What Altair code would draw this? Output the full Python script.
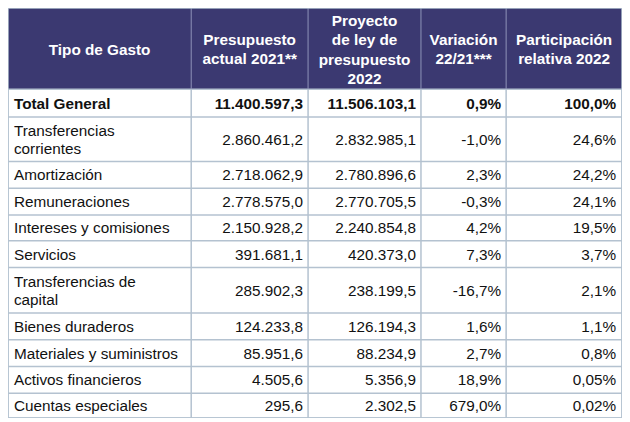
import altair as alt
import pandas as pd

# ---- data ----
headers = ["Tipo de Gasto", "Presupuesto\nactual 2021**", "Proyecto\nde ley de\npresupuesto\n2022",
           "Variación\n22/21***", "Participación\nrelativa 2022"]
tipo = ["Total General", "Transferencias\ncorrientes", "Amortización", "Remuneraciones",
        "Intereses y comisiones", "Servicios", "Transferencias de\ncapital", "Bienes duraderos",
        "Materiales y suministros", "Activos financieros", "Cuentas especiales"]
p2021 = [11400597.3, 2860461.2, 2718062.9, 2778575.0, 2150928.2, 391681.1, 285902.3,
         124233.8, 85951.6, 4505.6, 295.6]
p2022 = [11506103.1, 2832985.1, 2780896.6, 2770705.5, 2240854.8, 420373.0, 238199.5,
         126194.3, 88234.9, 5356.9, 2302.5]
variacion = [0.9, -1.0, 2.3, -0.3, 4.2, 7.3, -16.7, 1.6, 2.7, 18.9, 679.0]
participacion = [100.0, 24.6, 24.2, 24.1, 19.5, 3.7, 2.1, 1.1, 0.8, 0.05, 0.02]
part_decimals = [1, 1, 1, 1, 1, 1, 1, 1, 1, 2, 2]

# ---- layout ----
col_w = [185, 118, 114, 86, 117]
header_h = 82
row_h = [28, 45, 27, 27, 26, 27, 46, 27, 27, 27, 25]
W = sum(col_w)
H = header_h + sum(row_h)
PW, PH = 614, 410

HEADER_BG = "#3b3971"
LINE = "#b4c2d0"
HEADER_LINE = "#8e93b8"
FONT = "Liberation Sans"
FS = 15.3
H_LH = 19.5
B_LH = 18


def es_num(v, d=1):
    s = f"{v:,.{d}f}"
    return s.replace(",", "X").replace(".", ",").replace("X", ".")


col_x = [0]
for w in col_w:
    col_x.append(col_x[-1] + w)
row_y = [0, header_h]
for h in row_h:
    row_y.append(row_y[-1] + h)

xs = alt.Scale(domain=[0, W], range=[0, PW], nice=False, zero=False)
ys = alt.Scale(domain=[0, H], range=[0, PH], nice=False, zero=False)

# header background
hdr = pd.DataFrame({"x": [0], "x2": [W], "y": [0], "y2": [header_h]})
bg = alt.Chart(hdr).mark_rect(fill=HEADER_BG).encode(
    x=alt.X("x:Q", scale=xs, axis=None), x2="x2",
    y=alt.Y("y:Q", scale=ys, axis=None), y2="y2")

# horizontal lines
hl = pd.DataFrame({"y": row_y[1:], "x": 0, "x2": W})
hrules = alt.Chart(hl).mark_rule(color=LINE, strokeWidth=1.5).encode(
    x=alt.X("x:Q", scale=xs, axis=None), x2="x2",
    y=alt.Y("y:Q", scale=ys, axis=None))

# vertical lines in body
vl = pd.DataFrame({"x": col_x, "y": header_h, "y2": H})
vrules = alt.Chart(vl).mark_rule(color=LINE, strokeWidth=1.5).encode(
    x=alt.X("x:Q", scale=xs, axis=None),
    y=alt.Y("y:Q", scale=ys, axis=None), y2="y2")

# vertical lines in header
vh = pd.DataFrame({"x": col_x[1:-1], "y": 0, "y2": header_h})
vhrules = alt.Chart(vh).mark_rule(color=HEADER_LINE, strokeWidth=1).encode(
    x=alt.X("x:Q", scale=xs, axis=None),
    y=alt.Y("y:Q", scale=ys, axis=None), y2="y2")

# outer border
ob = pd.DataFrame({"x": [0], "x2": [W], "y": [0], "y2": [H]})
border = alt.Chart(ob).mark_rect(fill=None, stroke=LINE, strokeWidth=1.5).encode(
    x=alt.X("x:Q", scale=xs, axis=None), x2="x2",
    y=alt.Y("y:Q", scale=ys, axis=None), y2="y2")

# header text (first-line position so that the block is centred)
ht = pd.DataFrame({"x": [(col_x[i] + col_x[i + 1]) / 2 for i in range(5)],
                   "y": [header_h / 2 + 1 - (h.count("\n")) * H_LH / 2 for h in headers],
                   "t": headers})
htext = alt.Chart(ht).mark_text(font=FONT, fontSize=FS, fontWeight="bold", color="white",
                                align="center", baseline="middle", lineBreak="\n",
                                lineHeight=H_LH).encode(
    x=alt.X("x:Q", scale=xs, axis=None), y=alt.Y("y:Q", scale=ys, axis=None), text="t:N")

# body text
rows = []
for i in range(len(tipo)):
    yc = (row_y[i + 1] + row_y[i + 2]) / 2 + 0.5
    bold = "bold" if i == 0 else "normal"
    ylab = yc - tipo[i].count("\n") * B_LH / 2
    rows.append({"x": 6, "y": ylab, "t": tipo[i], "a": "left", "w": bold})
    rows.append({"x": col_x[2] - 5, "y": yc, "t": es_num(p2021[i]), "a": "right", "w": bold})
    rows.append({"x": col_x[3] - 5, "y": yc, "t": es_num(p2022[i]), "a": "right", "w": bold})
    rows.append({"x": col_x[4] - 5, "y": yc, "t": es_num(variacion[i]) + "%", "a": "right", "w": bold})
    rows.append({"x": col_x[5] - 6, "y": yc, "t": es_num(participacion[i], part_decimals[i]) + "%",
                 "a": "right", "w": bold})
bt = pd.DataFrame(rows)


def body_layer(align, weight):
    d = bt[(bt.a == align) & (bt.w == weight)]
    return alt.Chart(d).mark_text(font=FONT, fontSize=FS, fontWeight=weight, color="#111111",
                                  align=align, baseline="middle", lineBreak="\n",
                                  lineHeight=B_LH).encode(
        x=alt.X("x:Q", scale=xs, axis=None), y=alt.Y("y:Q", scale=ys, axis=None), text="t:N")


chart = alt.layer(
    bg, hrules, vrules, vhrules, border, htext,
    body_layer("left", "normal"), body_layer("left", "bold"),
    body_layer("right", "normal"), body_layer("right", "bold"),
).properties(
    width=PW, height=PH, padding=0, autosize=alt.AutoSizeParams(type="none")
).configure_view(stroke=None)

chart.save("out.html", embed_options={"renderer": "svg", "actions": False})
